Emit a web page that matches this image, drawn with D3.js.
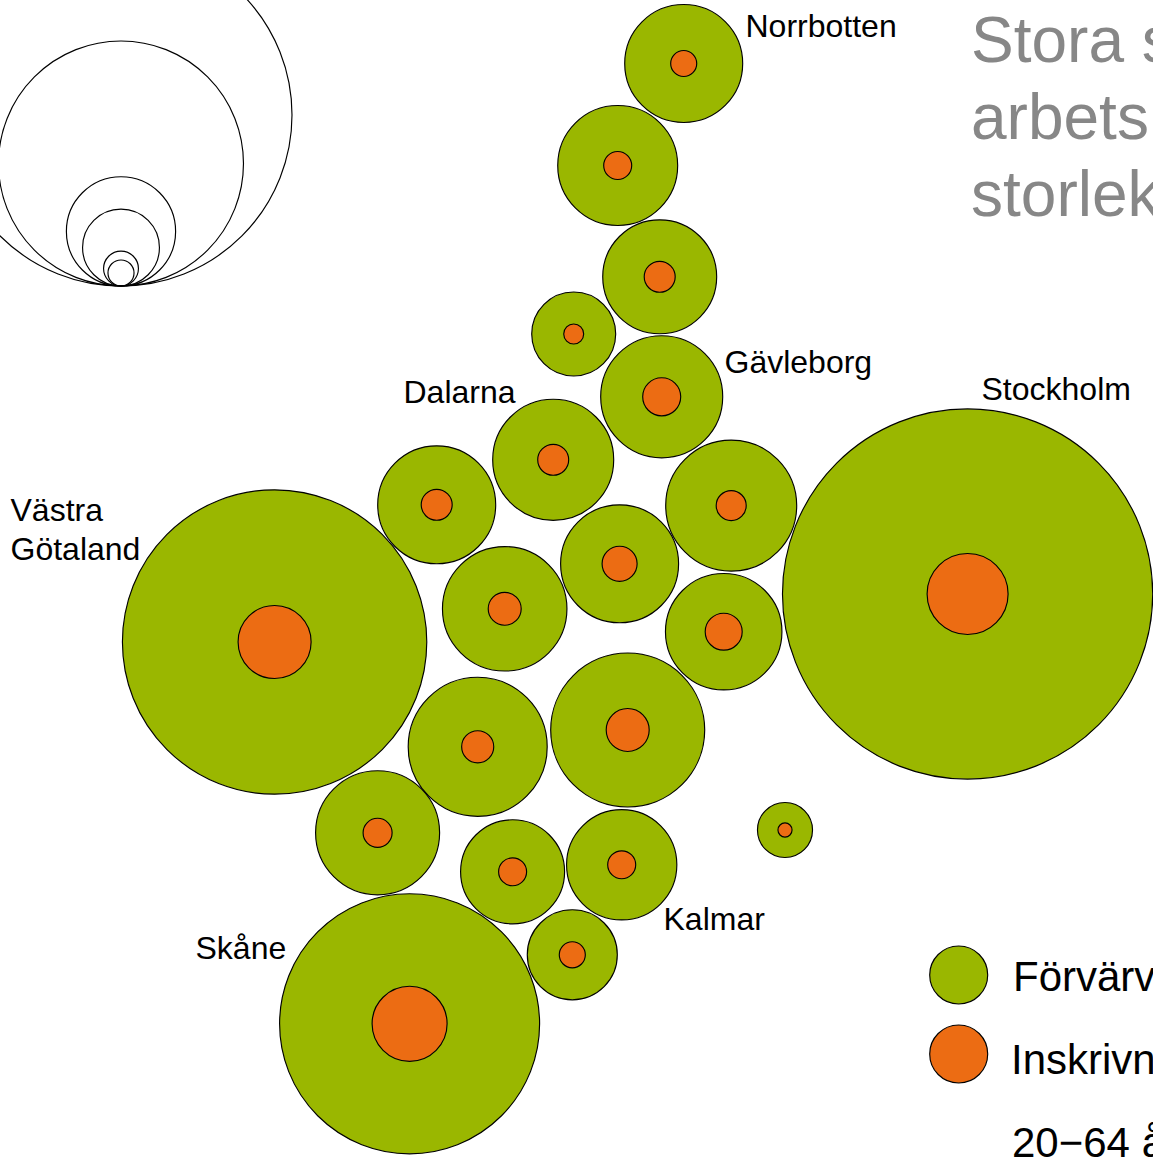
<!DOCTYPE html>
<html>
<head>
<meta charset="utf-8">
<script src="https://cdn.jsdelivr.net/npm/d3@7"></script>
<style>
  html, body { margin: 0; padding: 0; background: #fff; overflow: hidden; }
  svg { display: block; }
  text { font-family: "Liberation Sans", Arial, sans-serif; }
</style>
</head>
<body>
<div class="chart"></div>
<script>
// Data, cartogram position of each county plus the two head counts
const counties = ['Norrbotten', 'Västerbotten', 'Västernorrland', 'Jämtland', 'Gävleborg', 'Dalarna', 'Värmland',
  'Uppsala', 'Örebro', 'Västmanland', 'Södermanland', 'Stockholm', 'Västra Götaland', 'Östergötland', 'Jönköping',
  'Halland', 'Kronoberg', 'Kalmar', 'Gotland', 'Blekinge', 'Skåne']
const cartX = [683.7, 617.7, 659.7, 573.7, 661.7, 553.2, 436.7, 731.2, 504.7, 619.6, 723.7, 967.6, 274.6, 627.7, 477.7, 377.6, 512.6, 621.7, 785, 572.3, 409.6]
const cartY = [63.5, 165.5, 276.8, 334, 396.8, 459.8, 504.8, 505.6, 608.8, 563.8, 631.7, 594, 642, 730, 746.8, 832.8, 871.8, 864.8, 830, 954.8, 1023.8]
const employed = [119000, 123000, 111000, 60300, 127300, 125200, 119000, 146700, 132500, 119000, 116000,
  1172000, 792000, 202800, 165200, 131500, 92500, 104000, 25900, 69300, 578000]
const registered = [5800, 6700, 8200, 3400, 12350, 8200, 8200, 7700, 9300, 10500, 11700,
  56100, 45600, 15800, 8800, 7200, 6700, 6700, 1700, 5800, 48100]

const labelText = ['Norrbotten', 'Gävleborg', 'Stockholm', 'Dalarna', 'Västra', 'Götaland', 'Kalmar', 'Skåne']
const labelX = [745.5, 724.5, 981.5, 403.5, 10.5, 10.5, 663.5, 195.5]
const labelY = [37, 373, 400, 403, 521, 560, 930, 959]

const sizeRefValues = [1000000, 513000, 102000, 50500, 10400, 5800]

const titleLines = ['Stora skillnader på', 'arbetsmarknaden', 'storlek']
const legendLabels = ['Förvärvsarbetande', 'Inskrivna arbetslösa']
const legendNote = '20−64 år'

const green = '#9ab700'
const orange = '#ec6c13'

function draw() {
  const dimensions = { width: 1153, height: 1160 }

  const _xScale = d3.scaleLinear().domain([0, 1153]).range([0, dimensions.width])
  const _yScale = d3.scaleLinear().domain([0, 1160]).range([0, dimensions.height])
  const _rScale = d3.scaleSqrt().domain([0, 1000000]).range([0, 171])

  const _cont = d3.select('.chart')
    .append('svg')
    .attr('width', dimensions.width)
    .attr('height', dimensions.height)

  // size reference, all circles sit on the same bottom point
  const refBottom = 286
  _cont.append('g')
    .selectAll('circle')
    .data(sizeRefValues)
    .join('circle')
    .attr('cx', 121)
    .attr('cy', d => refBottom - _rScale(d))
    .attr('r', d => _rScale(d))
    .attr('fill', 'none')
    .attr('stroke', '#000')
    .attr('stroke-width', 1.15)

  // counties
  const _county = _cont.append('g')
    .selectAll('g')
    .data(counties.map((name, i) => ({ name, i })))
    .join('g')
    .attr('transform', d => `translate(${_xScale(cartX[d.i])},${_yScale(cartY[d.i])})`)

  _county.append('circle')
    .attr('r', d => _rScale(employed[d.i]))
    .attr('fill', green)
    .attr('stroke', '#000')
    .attr('stroke-width', 1.15)

  _county.append('circle')
    .attr('r', d => _rScale(registered[d.i]))
    .attr('fill', orange)
    .attr('stroke', '#000')
    .attr('stroke-width', 1.15)

  // county labels
  _cont.append('g')
    .selectAll('text')
    .data(labelText)
    .join('text')
    .attr('x', (d, i) => labelX[i])
    .attr('y', (d, i) => labelY[i])
    .attr('font-size', 32)
    .attr('fill', '#000')
    .text(d => d)

  // title
  _cont.append('g')
    .selectAll('text')
    .data(titleLines)
    .join('text')
    .attr('x', 971)
    .attr('y', (d, i) => 62 + i * 77)
    .attr('font-size', 64)
    .attr('fill', '#878787')
    .text(d => d)

  // legend
  const legendColors = [green, orange]
  _cont.append('g')
    .selectAll('circle')
    .data(legendColors)
    .join('circle')
    .attr('cx', 958.7)
    .attr('cy', (d, i) => 975 + i * 79)
    .attr('r', 29)
    .attr('fill', d => d)
    .attr('stroke', '#000')
    .attr('stroke-width', 1.15)

  _cont.append('g')
    .selectAll('text')
    .data(legendLabels.concat(legendNote))
    .join('text')
    .attr('x', (d, i) => [1013, 1011, 1012][i])
    .attr('y', (d, i) => 991 + i * 83)
    .attr('font-size', 42)
    .attr('fill', '#000')
    .text(d => d)
}

draw()
</script>
</body>
</html>
